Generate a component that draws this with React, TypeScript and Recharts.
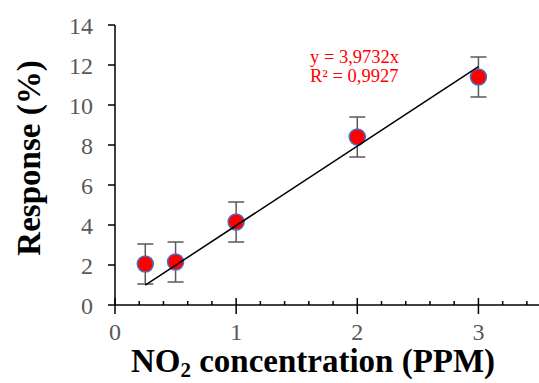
import React from "react";
import { ScatterChart, Scatter, XAxis, YAxis, ErrorBar } from "recharts";

const concentrations = [0.25, 0.5, 1, 2, 3];
const responses = [2.05, 2.15, 4.15, 8.4, 11.4];
const errors = [1.0, 1.0, 1.0, 1.0, 1.0];
const trendX = [0.25, 3];
const slope = 3.9732;
const yTicks = [0, 2, 4, 6, 8, 10, 12, 14];
const xTicks = [0, 0.2, 0.4, 0.6, 0.8, 1, 1.2, 1.4, 1.6, 1.8, 2, 2.2, 2.4, 2.6, 2.8, 3, 3.2, 3.4];
const eqLine1 = "y = 3,9732x";
const eqLine2 = "R\u00b2 = 0,9927";

const points = concentrations.map((x, i) => ({ x, y: responses[i], e: errors[i] }));
const trend = trendX.map((x) => ({ x, y: slope * x }));

const SERIF = "'Liberation Serif', 'Times New Roman', serif";

const XTick = (props: any) => {
  const { x, y, payload } = props;
  const v = payload.value;
  const major = Math.abs(v - Math.round(v)) < 1e-6;
  return (
    <g>
      <line x1={x} x2={x} y1={major ? y - 7 : y - 4} y2={major ? y + 9 : y} stroke="#000" strokeWidth={1.5} />
      {major && (
        <text x={x} y={y + 35} textAnchor="middle" fill="#595959" fontSize={24} fontFamily={SERIF}>
          {Math.round(v)}
        </text>
      )}
    </g>
  );
};

const Marker = (props: any) => {
  const { cx, cy } = props;
  return <circle cx={cx} cy={cy} r={8} fill="#ff0000" stroke="#4472C4" strokeWidth={1.5} />;
};

const Empty = () => <g />;

export default function App() {
  return (
    <div style={{ position: "absolute", left: 0, top: 0 }}>
      <ScatterChart width={539} height={383} margin={{ top: 25, right: 0, bottom: 0, left: 0 }}>
        <XAxis
          dataKey="x"
          type="number"
          domain={[0, 3.5]}
          ticks={xTicks}
          interval={0}
          tickSize={0}
          tickMargin={0}
          tick={<XTick />}
          height={78}
          axisLine={{ stroke: "#000", strokeWidth: 1.5 }}
          allowDataOverflow
          label={{
            content: () => (
              <text x={313} y={372} textAnchor="middle" fontSize={33} fontWeight="bold" fontFamily={SERIF} fill="#000">
                NO
                <tspan fontSize={21} dy={5}>2</tspan>
                <tspan dy={-5}> concentration (PPM)</tspan>
              </text>
            ),
          }}
        />
        <YAxis
          dataKey="y"
          type="number"
          domain={[0, 14]}
          ticks={yTicks}
          interval={0}
          width={115}
          tickSize={7}
          tickMargin={15}
          tickLine={{ stroke: "#000", strokeWidth: 1.5 }}
          axisLine={{ stroke: "#000", strokeWidth: 1.5 }}
          tick={{ fill: "#595959", fontSize: 24, fontFamily: SERIF }}
          label={{
            content: () => (
              <text
                x={40}
                y={158}
                textAnchor="middle"
                fontSize={33}
                fontWeight="bold"
                fontFamily={SERIF}
                fill="#000"
                transform="rotate(-90 40 158)"
              >
                Response (%)
              </text>
            ),
          }}
        />
        <Scatter data={points} shape={<Empty />} isAnimationActive={false}>
          <ErrorBar dataKey="e" direction="y" width={8} stroke="#595959" strokeWidth={1.5} />
        </Scatter>
        <Scatter data={points} shape={<Marker />} isAnimationActive={false} />
        <Scatter
          data={trend}
          shape={<Empty />}
          line={{ stroke: "#000", strokeWidth: 1.5 }}
          isAnimationActive={false}
        />
        <text x={310} y={62.5} fill="#ff0000" fontSize={18.5} fontFamily={SERIF}>
          {eqLine1}
        </text>
        <text x={310} y={81.5} fill="#ff0000" fontSize={18.5} fontFamily={SERIF}>
          {eqLine2}
        </text>
      </ScatterChart>
    </div>
  );
}
